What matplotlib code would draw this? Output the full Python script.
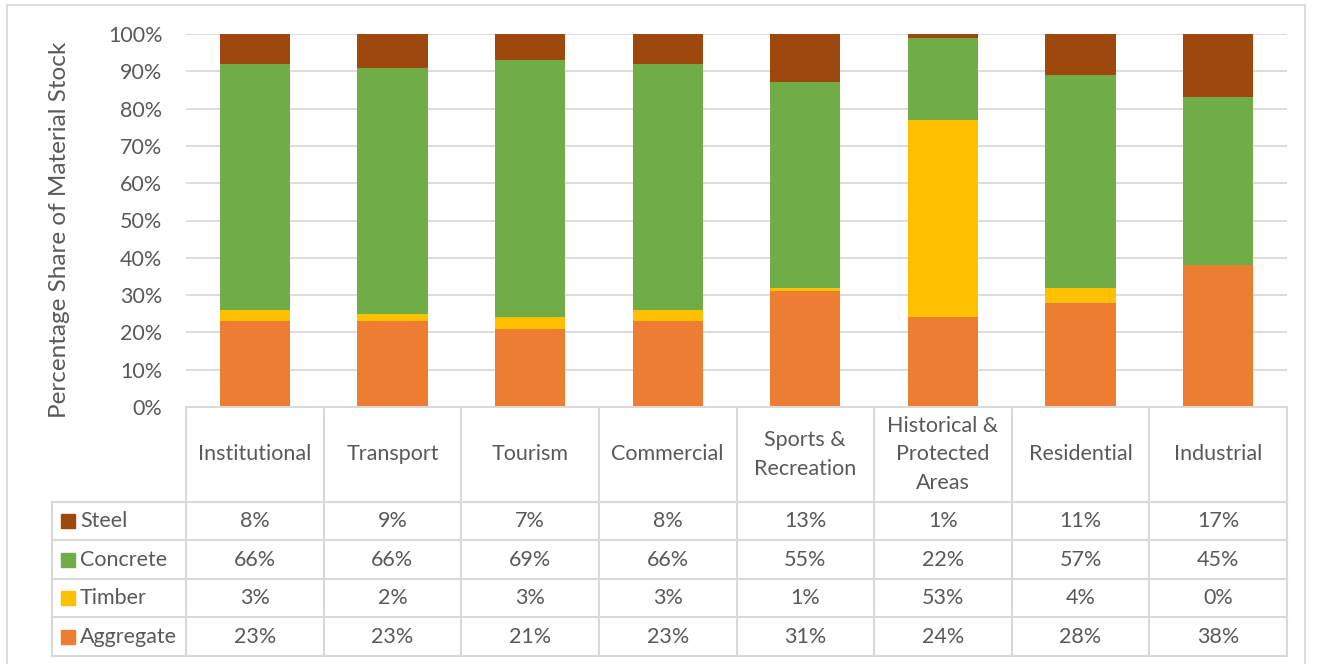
import matplotlib.pyplot as plt
from matplotlib.patches import Rectangle

categories = ["Institutional", "Transport", "Tourism", "Commercial",
              "Sports &\nRecreation", "Historical &\nProtected\nAreas",
              "Residential", "Industrial"]
aggregate = [23, 23, 21, 23, 31, 24, 28, 38]
timber = [3, 2, 3, 3, 1, 53, 4, 0]
concrete = [66, 66, 69, 66, 55, 22, 57, 45]
steel = [8, 9, 7, 8, 13, 1, 11, 17]

series = [("Aggregate", aggregate, "#ED7D31"),
          ("Timber", timber, "#FFC000"),
          ("Concrete", concrete, "#70AD47"),
          ("Steel", steel, "#9E480E")]

plt.rcParams['font.family'] = ['Lato', 'DejaVu Sans']
txt = "#595959"
grid = "#D9D9D9"
fs = 15.5

W, H = 1317, 664
fig = plt.figure(figsize=(W / 100, H / 100), dpi=100)

# outer chart border
fig.patches.append(Rectangle((7 / W, -0.02), 1298 / W, (H - 5) / H + 0.02,
                             transform=fig.transFigure, fill=False,
                             edgecolor=grid, lw=1.3))

# bar area
px_l, px_r, px_top, px_base = 186, 1287, 34, 407
ax = fig.add_axes([px_l / W, (H - px_base) / H, (px_r - px_l) / W, (px_base - px_top) / H])
x = list(range(len(categories)))
bottom = [0] * len(categories)
for name, vals, col in series:
    ax.bar(x, vals, 0.51, bottom=bottom, color=col, zorder=3)
    bottom = [b + v for b, v in zip(bottom, vals)]
ax.set_xlim(-0.5, len(categories) - 0.5)
ax.set_ylim(0, 100)
ax.set_yticks(range(0, 101, 10))
ax.set_yticklabels([f"{v}%" for v in range(0, 101, 10)], fontsize=15.5, color=txt)
ax.tick_params(axis='y', length=0, pad=17)
ax.set_xticks([])
ax.grid(axis='y', color=grid, lw=1.3, zorder=0)
for s in ax.spines.values():
    s.set_visible(False)

fig.text(60 / W, (H - 230) / H, "Percentage Share of Material Stock",
         rotation=90, ha='center', va='center', fontsize=17.5, color=txt)

# data table
t_l, t_bot = 52, 656
tab = fig.add_axes([t_l / W, (H - t_bot) / H, (px_r - t_l) / W, (t_bot - px_base) / H])
tab.set_xlim(t_l, px_r)
tab.set_ylim(t_bot, px_base)
tab.axis('off')

colw = (px_r - px_l) / len(categories)
head_bot = 502
rowh = (t_bot - head_bot) / 4
lk = dict(color=grid, lw=1.5, clip_on=False)

tab.plot([px_l, px_r], [px_base, px_base], **lk)
for i in range(len(categories) + 1):
    xx = px_l + i * colw
    tab.plot([xx, xx], [px_base, t_bot], **lk)
for j in range(5):
    yy = head_bot + j * rowh
    tab.plot([t_l, px_r], [yy, yy], **lk)
tab.plot([t_l, t_l], [head_bot, t_bot], **lk)

for i, c in enumerate(categories):
    tab.text(px_l + (i + 0.5) * colw, (px_base + head_bot) / 2, c, ha='center',
             va='center', fontsize=fs, color=txt, linespacing=1.55)

rows = list(reversed(series))
for j, (name, vals, col) in enumerate(rows):
    yc = head_bot + (j + 0.5) * rowh
    tab.add_patch(Rectangle((t_l + 9, yc - 7), 14, 14, color=col, clip_on=False))
    tab.text(t_l + 28, yc, name, ha='left', va='center', fontsize=fs, color=txt)
    for i, v in enumerate(vals):
        tab.text(px_l + (i + 0.5) * colw, yc, f"{v}%", ha='center', va='center',
                 fontsize=fs, color=txt)

fig.savefig("out.png", dpi=100)
